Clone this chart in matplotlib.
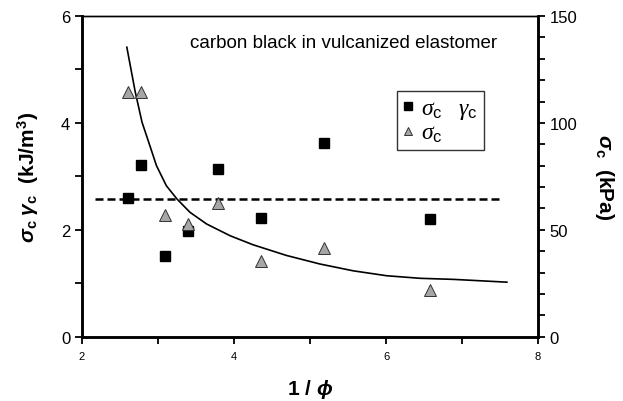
import matplotlib
matplotlib.use("Agg")
import matplotlib.pyplot as plt

plt.rcParams['font.family'] = 'Liberation Sans'
plt.rcParams['mathtext.fontset'] = 'custom'
plt.rcParams['mathtext.rm'] = 'Liberation Sans'
plt.rcParams['mathtext.it'] = 'Liberation Serif:italic'
plt.rcParams['mathtext.bf'] = 'Liberation Sans:bold'
plt.rcParams['mathtext.bfit'] = 'Liberation Sans:bold:italic'

# Datos
inv_phi = [2.61, 2.78, 3.09, 3.39, 3.79, 4.35, 5.18, 6.58]
sig_gam = [2.59, 3.22, 1.51, 1.97, 3.13, 2.22, 3.63, 2.21]     # kJ/m3
sig_c = [114.6, 114.6, 57.0, 52.5, 62.3, 35.3, 41.4, 22.0]     # kPa

# curva de ajuste (kPa)
curva_x = [2.59, 2.70, 2.79, 2.90, 2.98, 3.11, 3.25, 3.42, 3.64, 3.95,
           4.25, 4.69, 5.13, 5.57, 6.01, 6.45, 6.89, 7.59]
curva_y = [135.4, 114.6, 100.3, 88.6, 80.0, 70.6, 64.4, 58.2, 52.7, 47.2,
           43.0, 38.0, 34.0, 30.8, 28.5, 27.3, 26.8, 25.5]

# linea media horizontal
media_x = [2.17, 7.52]
media_y = [2.58, 2.58]

fig = plt.figure(figsize=(6.23, 4.02), dpi=100)
ax1 = fig.add_axes([0.1316, 0.16, 0.732, 0.7977])
ax2 = ax1.twinx()

ax1.plot(media_x, media_y, color='k', ls=(0, (3.2, 1.6)), lw=1.8)
sq, = ax1.plot(inv_phi, sig_gam, ls='none', marker='s', ms=7.5, color='k')

ax2.plot(curva_x, curva_y, color='k', lw=1.2)
tri, = ax2.plot(inv_phi, sig_c, ls='none', marker='^', ms=8,
                markerfacecolor='#a6a6a6', markeredgecolor='#333333', markeredgewidth=0.7)

ax1.set_xlim(2, 8)
ax1.set_ylim(0, 6)
ax2.set_ylim(0, 150)

ax1.set_xticks([2, 4, 6, 8])
ax1.set_xticks([3, 5, 7], minor=True)
ax1.set_yticks([0, 2, 4, 6])
ax1.set_yticks([1, 3, 5], minor=True)
ax2.set_yticks([0, 50, 100, 150])
ax2.set_yticks(range(0, 151, 10), minor=True)

ax1.tick_params(axis='x', which='both', direction='out', labelsize=8, width=1.3, length=5, pad=5)
ax1.tick_params(axis='y', which='both', direction='out', labelsize=12, width=1.3, length=5)
ax2.tick_params(axis='y', which='both', direction='out', labelsize=12, width=1.3, length=5)

for a in (ax1, ax2):
    a.spines['left'].set_linewidth(1.8)
    a.spines['bottom'].set_linewidth(1.8)
    a.spines['right'].set_linewidth(1.8)
    a.spines['top'].set_linewidth(1.0)

ax1.set_xlabel(r'1 / $\boldsymbol{\phi}$', fontsize=15, fontweight='bold', labelpad=12)
ax1.set_ylabel(r'$\boldsymbol{\sigma}_{\mathbf{c}}\ \boldsymbol{\gamma}_{\mathbf{c}}$  (kJ/m$^{\mathbf{3}}$)',
               fontsize=15, fontweight='bold', labelpad=14)
ax2.set_ylabel(r'$\boldsymbol{\sigma}_{\mathbf{c}}$  (kPa)', fontsize=15, fontweight='bold',
               rotation=-90, labelpad=28)

ax1.text(3.42, 5.51, 'carbon black in vulcanized elastomer', fontsize=13.5, va='center', ha='left')

ax2.legend([sq, tri], [r'$\sigma_{\mathrm{c}}\ \ \ \gamma_{\mathrm{c}}$', r'$\sigma_{\mathrm{c}}$'],
           loc='upper left', bbox_to_anchor=(0.69, 0.766), borderaxespad=0, fontsize=17,
           frameon=True, fancybox=False, edgecolor='k', handlelength=0.5, handletextpad=0.3,
           borderpad=0.25, labelspacing=0.05, markerscale=0.7)

fig.savefig('out.png', dpi=100)
